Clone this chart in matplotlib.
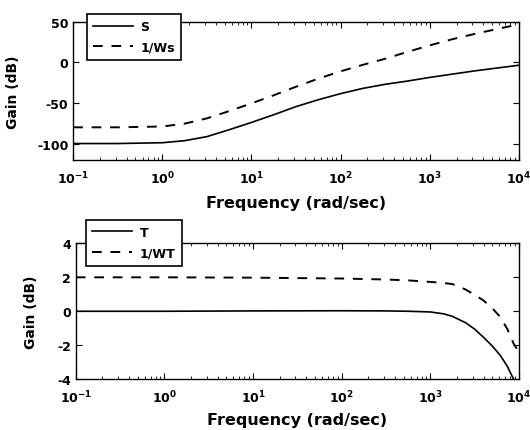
import matplotlib
matplotlib.use('Agg')
import matplotlib.pyplot as plt
import numpy as np

plt.rcParams['font.family'] = ['DejaVu Sans']
plt.rcParams['font.weight'] = 'bold'
plt.rcParams['axes.unicode_minus'] = False
plt.rcParams['mathtext.fontset'] = 'dejavusans'
plt.rcParams['mathtext.default'] = 'bf'

# log10 of frequency (rad/sec) and gains in dB
logw_top = [-1, -0.5, 0, 0.25, 0.5, 0.75, 1, 1.25, 1.5, 1.75, 2, 2.25, 2.5, 2.75, 3, 3.25, 3.5, 3.75, 4]
S = [-100, -100, -99, -96.5, -91.5, -83, -74, -64.5, -54.5, -46, -38.5, -32, -27, -23, -18.5, -14.5, -10.5, -7, -3.5]
inv_Ws = [-80, -80, -79, -75.5, -69, -60, -50.5, -40.5, -30, -20, -11, -3, 4.5, 13, 21, 28.5, 35, 41, 47]

logw_bot = [-1, 0, 1, 2, 2.5, 2.75, 3, 3.15, 3.25, 3.4, 3.5, 3.6, 3.7, 3.79, 3.87, 3.94, 4]
T = [0, 0, 0.02, 0.03, 0.02, 0, -0.04, -0.15, -0.3, -0.68, -1.05, -1.53, -2.05, -2.6, -3.25, -4.0, -4.6]
inv_WT = [2.0, 2.0, 1.98, 1.93, 1.87, 1.82, 1.73, 1.67, 1.6, 1.28, 0.97, 0.64, 0.18, -0.34, -1.05, -1.9, -2.4]

xticks = [0.1, 1, 10, 100, 1000, 10000]
xtick_labels = ['$10^{-1}$', '$10^{0}$', '$10^{1}$', '$10^{2}$', '$10^{3}$', '$10^{4}$']

fig = plt.figure(figsize=(5.30, 4.31), dpi=100)
ax1 = fig.add_axes([0.138, 0.627, 0.841, 0.320])
ax2 = fig.add_axes([0.143, 0.118, 0.836, 0.315])

dash = (0, (5, 4.5))

ax1.plot(10 ** np.array(logw_top), S, color='black', lw=1.2, label='S')
ax1.plot(10 ** np.array(logw_top), inv_Ws, color='black', lw=1.4, linestyle=dash, label='1/Ws')
ax1.set_ylim(-120, 50)
ax1.set_yticks([50, 0, -50, -100])

ax2.plot(10 ** np.array(logw_bot), T, color='black', lw=1.2, label='T')
ax2.plot(10 ** np.array(logw_bot), inv_WT, color='black', lw=1.4, linestyle=dash, label='1/WT')
ax2.set_ylim(-4, 4)
ax2.set_yticks([-4, -2, 0, 2, 4])

legend_pos = {ax1: (0.030, 1.058), ax2: (0.023, 1.175)}

for ax in (ax1, ax2):
    ax.set_xscale('log')
    ax.set_xlim(0.1, 10000)
    ax.set_xticks(xticks)
    ax.set_xticklabels(xtick_labels)
    ax.tick_params(which='both', direction='in', top=True, right=True, labelsize=9)
    ax.tick_params(axis='x', which='major', pad=7)
    ax.tick_params(which='major', length=4)
    ax.tick_params(which='minor', length=2)
    ax.set_xlabel('Frequency (rad/sec)', fontsize=11.5, fontweight='bold')
    ax.set_ylabel('Gain (dB)', fontsize=10, fontweight='bold')
    for sp in ax.spines.values():
        sp.set_linewidth(1.0)
    leg = ax.legend(loc='upper left', bbox_to_anchor=legend_pos[ax], fancybox=False,
                    edgecolor='black', framealpha=1, fontsize=9, handlelength=3.2,
                    handletextpad=0.6, borderaxespad=0.0, borderpad=0.5, labelspacing=0.6)
    leg.get_frame().set_linewidth(1.2)
    for t in leg.get_texts():
        t.set_fontweight('bold')

ax1.xaxis.set_label_coords(0.5, -0.255)
ax2.xaxis.set_label_coords(0.5, -0.245)
ax1.yaxis.set_label_coords(-0.119, 0.5)
ax2.yaxis.set_label_coords(-0.086, 0.5)

fig.savefig('out.png', dpi=100)
